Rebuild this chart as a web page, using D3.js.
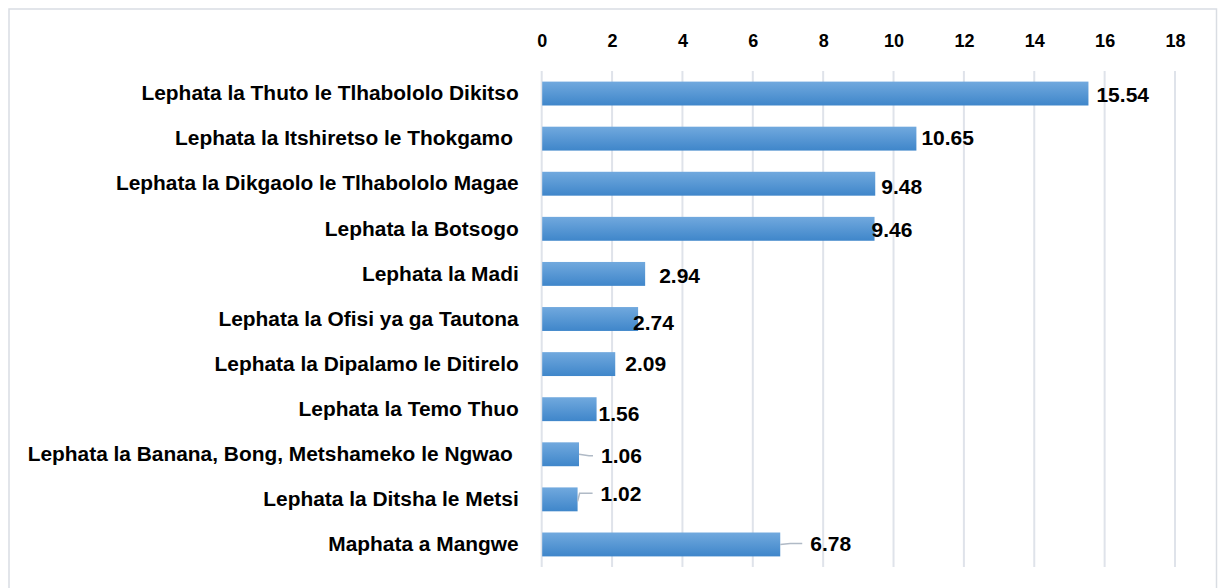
<!DOCTYPE html>
<html><head><meta charset="utf-8">
<script src="https://cdn.jsdelivr.net/npm/d3@7"></script>
<style>
html,body{margin:0;padding:0;background:#fff;}
svg{display:block;}
text{font-family:"Liberation Sans",Arial,sans-serif;font-weight:bold;fill:#000;white-space:pre;}
</style></head>
<body>
<svg id="chart" width="1218" height="588"></svg>
<script>
const categories = [
  "Lephata la Thuto le Tlhabololo Dikitso",
  "Lephata la Itshiretso le Thokgamo ",
  "Lephata la Dikgaolo le Tlhabololo Magae",
  "Lephata la Botsogo",
  "Lephata la Madi",
  "Lephata la Ofisi ya ga Tautona",
  "Lephata la Dipalamo le Ditirelo",
  "Lephata la Temo Thuo",
  "Lephata la Banana, Bong, Metshameko le Ngwao ",
  "Lephata la Ditsha le Metsi",
  "Maphata a Mangwe"
];
const values = [15.54, 10.65, 9.48, 9.46, 2.94, 2.74, 2.09, 1.56, 1.06, 1.02, 6.78];
const tickValues = [0, 2, 4, 6, 8, 10, 12, 14, 16, 18];

// label placement (layout, in px relative to bar end / bar centre)
const labelDx = [8, 5, 6, -3, 14, -5, 10, 2, 22, 23, 30];
const labelDy = [1, -1, 3, 1, 2, 3, -1, 4, 1.5, -6, -1];
const hasLeader = [false,false,false,false,false,false,false,false,true,true,true];

const svg = d3.select("#chart");
const pL = 541.7, pR = 1175, pT = 71, pB = 567;

const defs = svg.append("defs");
const grad = defs.append("linearGradient").attr("id","barGrad").attr("x1",0).attr("y1",0).attr("x2",0).attr("y2",1);
grad.append("stop").attr("offset","0%").attr("stop-color","#71a9de");
grad.append("stop").attr("offset","100%").attr("stop-color","#3f86ca");

// frame
svg.append("rect").attr("x",9).attr("y",9).attr("width",1207.5).attr("height",600)
  .attr("fill","none").attr("stroke","#d9dde3").attr("stroke-width",1.5);

const x = d3.scaleLinear().domain([0,18]).range([pL,pR]);
const y = d3.scaleBand().domain(categories).range([pT,pB]).paddingInner(0.47).paddingOuter(0.235);

// gridlines
svg.append("g").selectAll("line").data(tickValues).join("line")
  .attr("x1",d=>x(d)).attr("x2",d=>x(d)).attr("y1",pT).attr("y2",pB)
  .attr("stroke","#dfe3ea").attr("stroke-width",2);

// top axis
const xAxis = d3.axisTop(x).tickValues(tickValues).tickSize(0).tickPadding(0);
const gx = svg.append("g").attr("transform",`translate(0,${47})`).call(xAxis);
gx.select(".domain").remove();
gx.selectAll("text").attr("font-size",18).attr("font-family",null).attr("font-weight",null).attr("fill","#000");

// left axis labels
const yAxis = d3.axisLeft(y).tickSize(0).tickPadding(23);
const gy = svg.append("g").attr("transform",`translate(${pL},0)`).call(yAxis);
gy.select(".domain").remove();
gy.selectAll("text").attr("font-size",20.9).attr("font-family",null).attr("font-weight",null).attr("fill","#000");

// bars
svg.append("g").selectAll("rect").data(values).join("rect")
  .attr("x",x(0)+0.5).attr("y",(d,i)=>y(categories[i]))
  .attr("width",d=>x(d)-x(0)-0.5).attr("height",y.bandwidth())
  .attr("fill","url(#barGrad)");

// leader lines
svg.append("g").selectAll("path").data(values.map((v,i)=>({v,i})).filter(d=>hasLeader[d.i])).join("path")
  .attr("d",d=>{
    const x0 = x(d.v), yc = y(categories[d.i]) + y.bandwidth()/2;
    const ly = yc + labelDy[d.i];
    const lx = x0 + labelDx[d.i] - 8;
    return `M${x0},${yc - (labelDy[d.i]<-2?-2:0)} L${x0+ (labelDy[d.i]<-2?2:10)},${ly} L${lx},${ly}`;
  })
  .attr("fill","none").attr("stroke","#b0bac6").attr("stroke-width",1.5);

// value labels
svg.append("g").selectAll("text").data(values).join("text")
  .attr("x",(d,i)=>x(d)+labelDx[i])
  .attr("y",(d,i)=>y(categories[i])+y.bandwidth()/2+labelDy[i])
  .attr("dominant-baseline","central")
  .attr("font-size",21)
  .text(d=>d.toFixed(2));
</script>
</body></html>
